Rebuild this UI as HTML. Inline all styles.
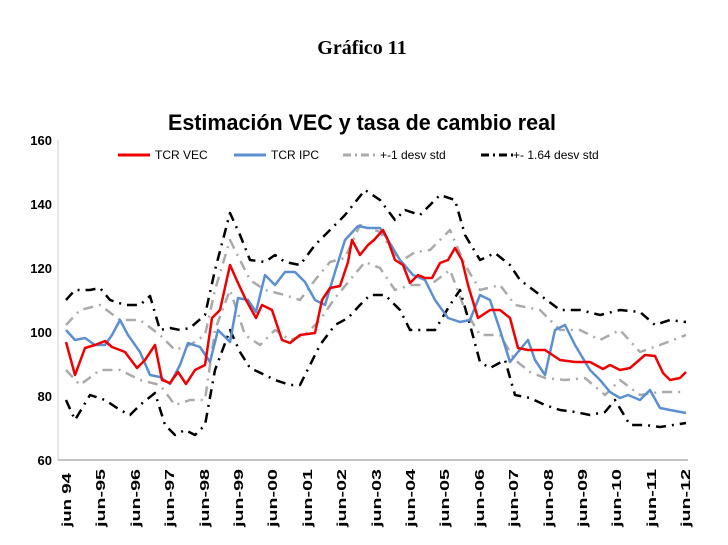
<!DOCTYPE html><html><head><style>body{margin:0;background:#fff}svg{display:block}</style></head><body>
<svg width="728" height="545" xmlns="http://www.w3.org/2000/svg" font-family="Liberation Sans, sans-serif">
<text x="362" y="54" text-anchor="middle" font-family="Liberation Serif, serif" font-weight="bold" font-size="20">Gráfico 11</text>
<text x="362" y="130" text-anchor="middle" font-weight="bold" font-size="22" textLength="388" lengthAdjust="spacingAndGlyphs">Estimación VEC y tasa de cambio real</text>
<g font-size="13" font-weight="bold" text-anchor="end">
<text x="52" y="145">160</text><text x="52" y="209">140</text><text x="52" y="273">120</text><text x="52" y="337">100</text><text x="52" y="401">80</text><text x="52" y="465">60</text></g>
<line x1="58" y1="140" x2="58" y2="460" stroke="#ccc"/>
<line x1="58" y1="460" x2="688" y2="460" stroke="#888"/>
<g font-size="12">
<line x1="118" y1="155" x2="150" y2="155" stroke="#e00" stroke-width="3"/><text x="155" y="159">TCR VEC</text>
<line x1="234" y1="155" x2="266" y2="155" stroke="#5b8fd0" stroke-width="3"/><text x="271" y="159">TCR IPC</text>
<line x1="343" y1="155" x2="375" y2="155" stroke="#aaa" stroke-width="3" stroke-dasharray="8 4 2 4"/><text x="380" y="159">+-1 desv std</text>
<line x1="481" y1="155" x2="513" y2="155" stroke="#000" stroke-width="3" stroke-dasharray="8 4 2 4"/><text x="513" y="159">+- 1.64 desv std</text></g>
<g fill="none" stroke-width="2.5" stroke-linejoin="round">
<polyline stroke="#aaa" stroke-dasharray="10 6 2 6" points="66,325 80,310 100,305 120,320 140,320 160,335 175,350 190,345 205,335 215,290 230,240 250,280 265,290 285,295 300,300 315,280 330,262 345,258 360,225 380,232 400,262 415,252 430,250 450,230 465,265 480,290 500,285 515,305 540,310 560,330 580,330 600,340 620,330 640,352 660,345 686,335"/>
<polyline stroke="#aaa" stroke-dasharray="10 6 2 6" points="66,370 80,385 100,370 120,370 140,380 160,385 175,405 190,400 205,400 215,330 230,290 245,335 260,345 275,330 290,340 305,335 320,320 335,298 350,280 365,262 380,268 395,290 410,285 430,285 450,270 465,310 480,335 500,335 515,360 530,372 545,378 565,380 585,378 605,395 620,380 640,395 660,392 686,392"/>
<polyline stroke="#000" stroke-dasharray="10 6 2 6" points="66,300 75,290 90,290 100,288 110,300 125,305 140,305 150,296 160,330 170,328 180,330 190,328 205,315 215,270 230,213 240,235 250,260 265,262 275,255 285,262 300,265 315,245 325,235 345,215 365,190 380,200 395,220 405,210 420,215 440,195 455,200 465,235 480,260 495,253 510,265 520,280 540,295 560,310 580,310 600,315 620,310 640,312 655,325 670,320 686,322"/>
<polyline stroke="#000" stroke-dasharray="10 6 2 6" points="66,400 75,420 90,395 105,400 120,410 130,415 140,405 155,393 165,425 175,435 185,430 195,435 205,425 215,370 230,330 240,352 250,368 265,375 275,380 290,385 300,385 310,365 320,345 335,325 348,318 360,305 370,295 385,295 400,310 410,330 420,330 435,330 450,305 460,290 470,325 480,362 490,368 505,360 515,395 530,398 545,405 560,410 575,412 590,415 605,412 615,400 630,425 645,425 660,427 686,423"/>
<polyline stroke="#5b8fd0" points="66,330 75,340 85,338 95,345 105,345 112,335 120,320 128,335 140,352 150,375 160,377 170,384 180,365 188,343 200,347 210,362 218,330 230,342 238,298 248,300 256,312 265,275 275,285 285,272 295,272 305,282 315,300 325,305 335,272 345,240 358,226 368,228 380,228 388,240 400,260 413,275 425,280 435,300 448,318 460,322 470,320 480,295 490,300 500,330 510,362 518,352 528,340 535,360 545,375 555,330 565,325 575,345 590,370 600,380 610,392 620,398 628,395 640,400 650,390 660,408 670,410 686,413"/>
<polyline stroke="#e00" points="66,342 75,375 85,348 95,345 105,341 112,347 125,352 137,368 145,360 155,345 162,380 170,383 178,372 186,384 195,370 205,365 212,318 220,310 230,265 238,283 246,300 256,318 262,305 272,310 282,340 290,343 300,335 315,333 322,300 330,288 340,286 348,262 352,240 360,255 368,245 374,240 383,230 387,238 395,260 403,265 410,283 418,275 425,278 432,278 440,263 448,260 455,248 462,260 468,285 478,318 490,310 500,310 510,318 518,348 528,350 545,350 560,360 575,362 590,362 603,369 610,365 620,370 630,368 645,355 655,356 663,373 670,380 680,378 686,372"/>
</g>
<g font-size="13" font-weight="bold">
<text transform="translate(71,527) rotate(-90)" textLength="54" lengthAdjust="spacingAndGlyphs">jun 94</text>
<text transform="translate(105,527) rotate(-90)" textLength="58" lengthAdjust="spacingAndGlyphs">jun-95</text>
<text transform="translate(140,527) rotate(-90)" textLength="58" lengthAdjust="spacingAndGlyphs">jun-96</text>
<text transform="translate(174,527) rotate(-90)" textLength="58" lengthAdjust="spacingAndGlyphs">jun-97</text>
<text transform="translate(209,527) rotate(-90)" textLength="58" lengthAdjust="spacingAndGlyphs">jun-98</text>
<text transform="translate(243,527) rotate(-90)" textLength="58" lengthAdjust="spacingAndGlyphs">jun-99</text>
<text transform="translate(277,527) rotate(-90)" textLength="58" lengthAdjust="spacingAndGlyphs">jun-00</text>
<text transform="translate(312,527) rotate(-90)" textLength="58" lengthAdjust="spacingAndGlyphs">jun-01</text>
<text transform="translate(346,527) rotate(-90)" textLength="58" lengthAdjust="spacingAndGlyphs">jun-02</text>
<text transform="translate(381,527) rotate(-90)" textLength="58" lengthAdjust="spacingAndGlyphs">jun-03</text>
<text transform="translate(415,527) rotate(-90)" textLength="58" lengthAdjust="spacingAndGlyphs">jun-04</text>
<text transform="translate(449,527) rotate(-90)" textLength="58" lengthAdjust="spacingAndGlyphs">jun-05</text>
<text transform="translate(484,527) rotate(-90)" textLength="58" lengthAdjust="spacingAndGlyphs">jun-06</text>
<text transform="translate(518,527) rotate(-90)" textLength="58" lengthAdjust="spacingAndGlyphs">jun-07</text>
<text transform="translate(553,527) rotate(-90)" textLength="58" lengthAdjust="spacingAndGlyphs">jun-08</text>
<text transform="translate(587,527) rotate(-90)" textLength="58" lengthAdjust="spacingAndGlyphs">jun-09</text>
<text transform="translate(621,527) rotate(-90)" textLength="58" lengthAdjust="spacingAndGlyphs">jun-10</text>
<text transform="translate(656,527) rotate(-90)" textLength="58" lengthAdjust="spacingAndGlyphs">jun-11</text>
<text transform="translate(690,527) rotate(-90)" textLength="58" lengthAdjust="spacingAndGlyphs">jun-12</text>
</g>
</svg></body></html>
